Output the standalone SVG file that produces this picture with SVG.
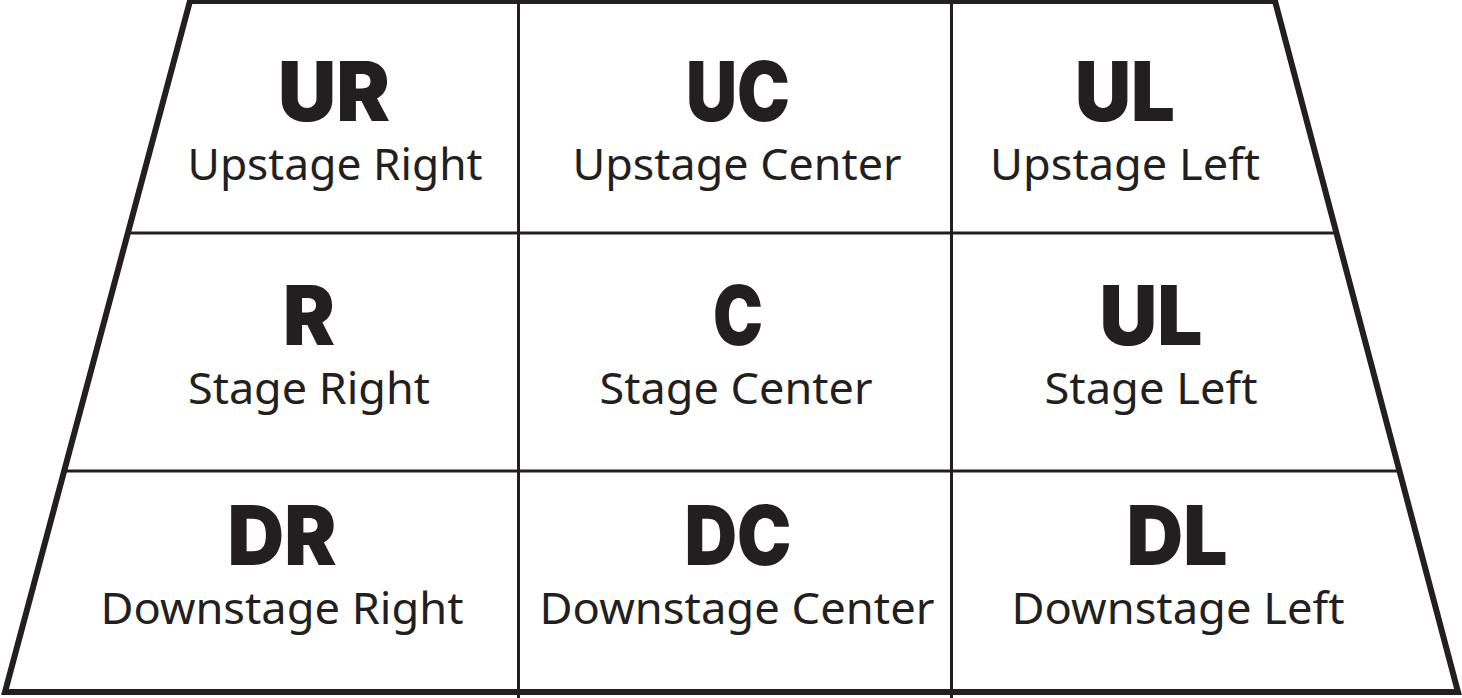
<svg xmlns="http://www.w3.org/2000/svg" width="1462" height="698" viewBox="0 0 1462 698">
<style>
.ln{stroke:#231f20;fill:none}
.code{font-family:Inter,"Liberation Sans",sans-serif;font-weight:900;font-size:82px;fill:#231f20;text-anchor:middle}
.lbl{font-family:"Noto Sans","Open Sans",sans-serif;font-weight:400;font-size:44px;fill:#231f20;text-anchor:middle}
</style>
<rect width="1462" height="698" fill="#fff"/>
<g id="connectors">
<line class="ln" x1="518.5" y1="0" x2="518.5" y2="698" stroke-width="3"/>
<line class="ln" x1="951.5" y1="0" x2="951.5" y2="698" stroke-width="3"/>
<line class="ln" x1="128.4" y1="233" x2="1336.3" y2="233" stroke-width="3"/>
<line class="ln" x1="64.9" y1="471" x2="1399.4" y2="471" stroke-width="3"/>
<polygon class="ln" points="190,1 1275,1 1458,692 5,692" stroke-width="6" stroke-linejoin="miter"/>
</g>
<g id="UR"><text class="code" x="334" y="121" textLength="112" lengthAdjust="spacingAndGlyphs">UR</text><text class="lbl" x="335" y="180" textLength="295" lengthAdjust="spacingAndGlyphs">Upstage Right</text></g>
<g id="UC"><text class="code" x="738" y="121" textLength="104" lengthAdjust="spacingAndGlyphs">UC</text><text class="lbl" x="737" y="180" textLength="329" lengthAdjust="spacingAndGlyphs">Upstage Center</text></g>
<g id="UL"><text class="code" x="1125" y="121" textLength="100" lengthAdjust="spacingAndGlyphs">UL</text><text class="lbl" x="1125" y="180" textLength="270" lengthAdjust="spacingAndGlyphs">Upstage Left</text></g>
<g id="R"><text class="code" x="309" y="345" textLength="52" lengthAdjust="spacingAndGlyphs">R</text><text class="lbl" x="309" y="404" textLength="242" lengthAdjust="spacingAndGlyphs">Stage Right</text></g>
<g id="C"><text class="code" x="738" y="345" textLength="50" lengthAdjust="spacingAndGlyphs">C</text><text class="lbl" x="736" y="404" textLength="273" lengthAdjust="spacingAndGlyphs">Stage Center</text></g>
<g id="SL"><text class="code" x="1151" y="345" textLength="103" lengthAdjust="spacingAndGlyphs">UL</text><text class="lbl" x="1151" y="404" textLength="213" lengthAdjust="spacingAndGlyphs">Stage Left</text></g>
<g id="DR"><text class="code" x="282" y="565" textLength="109" lengthAdjust="spacingAndGlyphs">DR</text><text class="lbl" x="282" y="624" textLength="363" lengthAdjust="spacingAndGlyphs">Downstage Right</text></g>
<g id="DC"><text class="code" x="738" y="565" textLength="107" lengthAdjust="spacingAndGlyphs">DC</text><text class="lbl" x="737" y="624" textLength="395" lengthAdjust="spacingAndGlyphs">Downstage Center</text></g>
<g id="DL"><text class="code" x="1177" y="565" textLength="101" lengthAdjust="spacingAndGlyphs">DL</text><text class="lbl" x="1178" y="624" textLength="333" lengthAdjust="spacingAndGlyphs">Downstage Left</text></g>
</svg>
